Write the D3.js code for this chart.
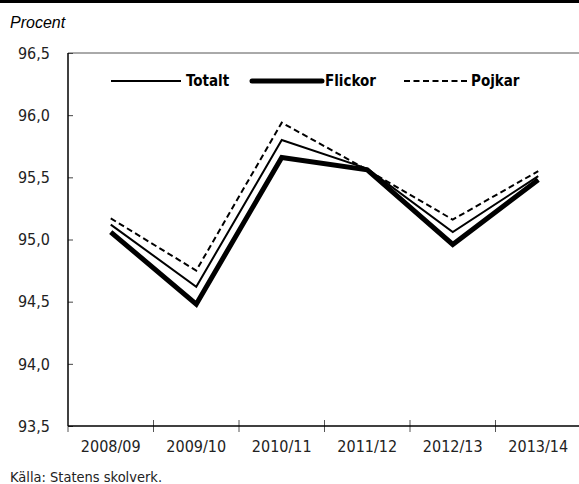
<!DOCTYPE html>
<html>
<head>
<meta charset="utf-8">
<script src="https://cdn.jsdelivr.net/npm/d3@7"></script>
<style>
  html, body { margin: 0; padding: 0; background: #fff; }
  svg { display: block; }
  .narrow { font-family: "DejaVu Sans Condensed", "Liberation Sans", sans-serif; }
</style>
</head>
<body>
<svg id="chart" width="579" height="484"></svg>
<script>
// --- data -------------------------------------------------------------
var years   = ["2008/09", "2009/10", "2010/11", "2011/12", "2012/13", "2013/14"];
var totalt  = [95.12, 94.62, 95.80, 95.57, 95.06, 95.51];
var flickor = [95.06, 94.48, 95.66, 95.56, 94.96, 95.48];
var pojkar  = [95.17, 94.75, 95.94, 95.56, 95.16, 95.55];
var yTicks  = [93.5, 94.0, 94.5, 95.0, 95.5, 96.0, 96.5];

var series = [
    {name: "Pojkar",  values: pojkar,  width: 2, dash: "6,3.5"},
    {name: "Totalt",  values: totalt,  width: 2, dash: null},
    {name: "Flickor", values: flickor, width: 5, dash: null}
];
var legendOrder = ["Totalt", "Flickor", "Pojkar"];

// --- layout -----------------------------------------------------------
var W = 579, H = 484;
var pLeft = 68, pRight = 581, pTop = 53, pBottom = 426;

var svg = d3.select("#chart");

var x = d3.scaleBand().domain(years).range([pLeft, pRight]);
var y = d3.scaleLinear().domain([93.5, 96.5]).range([pBottom, pTop]);

var fmt = function(d) { return d3.format(".1f")(d).replace(".", ","); };

// thick rule at the very top
svg.append("rect").attr("x", 0).attr("y", 0).attr("width", W).attr("height", 3).attr("fill", "#000");

svg.append("text")
    .attr("x", 10).attr("y", 28)
    .attr("font-family", "Liberation Sans, Arial, sans-serif")
    .attr("font-style", "italic")
    .attr("font-size", 16)
    .text("Procent");

// top frame line
svg.append("line")
    .attr("x1", pLeft).attr("x2", W)
    .attr("y1", y(96.5)).attr("y2", y(96.5))
    .attr("stroke", "#555").attr("stroke-width", 1);

// y axis
var yAxis = svg.append("g")
    .attr("transform", "translate(" + pLeft + ",0)")
    .call(d3.axisRight(y).tickValues(yTicks).tickSize(5).tickFormat(""));
yAxis.select(".domain").remove();
yAxis.selectAll("line").attr("stroke", "#444");

svg.append("line")
    .attr("x1", pLeft).attr("x2", pLeft)
    .attr("y1", pTop).attr("y2", pBottom)
    .attr("stroke", "#000").attr("stroke-width", 1.5);

svg.append("g").selectAll("text")
    .data(yTicks)
    .enter().append("text")
    .attr("class", "narrow")
    .attr("x", 50)
    .attr("y", function(d) { return y(d); })
    .attr("dy", "0.36em")
    .attr("text-anchor", "end")
    .attr("font-size", 16)
    .attr("fill", "#222")
    .text(fmt);

// x axis
var xTickPos = years.map(function(d) { return x(d); });
svg.append("g").selectAll("line")
    .data(xTickPos)
    .enter().append("line")
    .attr("x1", function(d) { return d; }).attr("x2", function(d) { return d; })
    .attr("y1", pBottom - 6).attr("y2", pBottom + 6)
    .attr("stroke", "#555").attr("stroke-width", 1);

svg.append("line")
    .attr("x1", pLeft).attr("x2", W)
    .attr("y1", pBottom).attr("y2", pBottom)
    .attr("stroke", "#000").attr("stroke-width", 1.5);

svg.append("g").selectAll("text")
    .data(years)
    .enter().append("text")
    .attr("class", "narrow")
    .attr("x", function(d) { return x(d) + x.bandwidth() / 2; })
    .attr("y", 452)
    .attr("text-anchor", "middle")
    .attr("font-size", 16)
    .attr("fill", "#222")
    .text(function(d) { return d; });

// lines
var line = d3.line()
    .x(function(d, i) { return x(years[i]) + x.bandwidth() / 2; })
    .y(function(d) { return y(d); });

svg.append("g").selectAll("path")
    .data(series)
    .enter().append("path")
    .attr("d", function(d) { return line(d.values); })
    .attr("fill", "none")
    .attr("stroke", "#000")
    .attr("stroke-width", function(d) { return d.width; })
    .attr("stroke-dasharray", function(d) { return d.dash; })
    .attr("stroke-linejoin", "miter");

// legend
var legendX = [111, 252, 404];
var lg = svg.append("g").selectAll("g")
    .data(legendOrder)
    .enter().append("g")
    .attr("transform", function(d, i) { return "translate(" + legendX[i] + ",81)"; });

lg.append("line")
    .attr("x1", 0).attr("x2", function(d) { return d == "Pojkar" ? 63 : 70; })
    .attr("y1", 0).attr("y2", 0)
    .attr("stroke", "#000")
    .attr("stroke-linecap", function(d) { return d == "Flickor" ? "round" : "butt"; })
    .attr("stroke-width", function(d) { return series.find(function(s) { return s.name == d; }).width; })
    .attr("stroke-dasharray", function(d) { return series.find(function(s) { return s.name == d; }).dash; });

lg.append("text")
    .attr("class", "narrow")
    .attr("x", function(d) { return d == "Pojkar" ? 67 : (d == "Flickor" ? 73 : 75); })
    .attr("y", 0)
    .attr("dy", "0.36em")
    .attr("font-size", 15)
    .attr("font-weight", "bold")
    .text(function(d) { return d; });

// source
svg.append("text")
    .attr("class", "narrow")
    .attr("x", 10).attr("y", 482)
    .attr("font-size", 14.5)
    .attr("fill", "#222")
    .text("Källa: Statens skolverk.");
</script>
</body>
</html>
